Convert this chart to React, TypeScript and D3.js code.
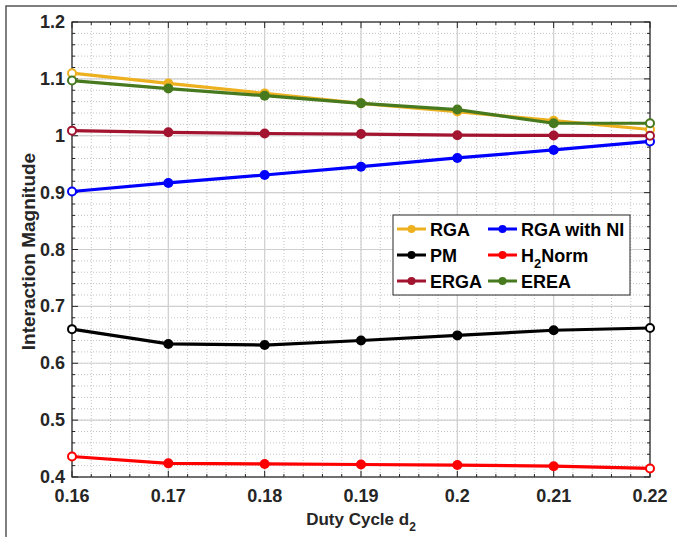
import React, { useEffect, useRef } from 'react';
import * as d3 from 'd3';

const duty = [0.16, 0.17, 0.18, 0.19, 0.2, 0.21, 0.22];
const rga = [1.110, 1.092, 1.0745, 1.057, 1.0425, 1.0265, 1.011];
const rgaNI = [0.902, 0.917, 0.931, 0.9456, 0.961, 0.975, 0.990];
const pm = [0.660, 0.634, 0.632, 0.640, 0.649, 0.658, 0.662];
const h2norm = [0.436, 0.424, 0.423, 0.422, 0.421, 0.419, 0.415];
const erga = [1.009, 1.006, 1.004, 1.003, 1.001, 1.0005, 1.0];
const erea = [1.097, 1.083, 1.0704, 1.057, 1.046, 1.022, 1.022];
const xTicks = ['0.16', '0.17', '0.18', '0.19', '0.2', '0.21', '0.22'];
const yTicks = ['0.4', '0.5', '0.6', '0.7', '0.8', '0.9', '1', '1.1', '1.2'];

const series = [
  { name: 'RGA', values: rga, color: '#EDB120' },
  { name: 'RGA with NI', values: rgaNI, color: '#0000FF' },
  { name: 'PM', values: pm, color: '#000000' },
  { name: 'H2Norm', values: h2norm, color: '#FF0000' },
  { name: 'ERGA', values: erga, color: '#A2142F' },
  { name: 'EREA', values: erea, color: '#477A1E' },
];

const App = () => {
  const ref = useRef(null);

  useEffect(() => {
    const svg = d3.select(ref.current);
    svg.selectAll('*').remove();
    const left = 72, right = 650, top = 22, bottom = 477;
    const font = 'Liberation Sans, Arial, sans-serif';

    const x = d3.scaleLinear().domain([0.16, 0.22]).range([left, right]);
    const y = d3.scaleLinear().domain([0.4, 1.2]).range([bottom, top]);

    // figure frame
    svg.append('rect').attr('x', 6).attr('y', 6).attr('width', 700).attr('height', 560)
      .attr('fill', 'none').attr('stroke', '#555').attr('stroke-width', 1.5);

    svg.append('rect').attr('x', left).attr('y', top).attr('width', right - left).attr('height', bottom - top)
      .attr('fill', '#fff');

    const g = svg.append('g');
    // minor grid
    const xMinor = d3.range(0, 31).map(i => 0.16 + i * 0.002);
    const yMinor = d3.range(0, 41).map(i => 0.4 + i * 0.02);
    g.selectAll('.xm').data(xMinor).enter().append('line')
      .attr('x1', d => x(d)).attr('x2', d => x(d)).attr('y1', top).attr('y2', bottom)
      .attr('stroke', '#bdbdbd').attr('stroke-width', 0.9).attr('stroke-dasharray', '1,2');
    g.selectAll('.ym').data(yMinor).enter().append('line')
      .attr('y1', d => y(d)).attr('y2', d => y(d)).attr('x1', left).attr('x2', right)
      .attr('stroke', '#bdbdbd').attr('stroke-width', 0.9).attr('stroke-dasharray', '1,2');
    // major grid
    g.selectAll('.xg').data(xTicks).enter().append('line')
      .attr('x1', d => x(+d)).attr('x2', d => x(+d)).attr('y1', top).attr('y2', bottom)
      .attr('stroke', '#d0d0d0').attr('stroke-width', 1.2);
    g.selectAll('.yg').data(yTicks).enter().append('line')
      .attr('y1', d => y(+d)).attr('y2', d => y(+d)).attr('x1', left).attr('x2', right)
      .attr('stroke', '#d0d0d0').attr('stroke-width', 1.2);

    // ticks inside on all sides
    const tk = svg.append('g').attr('stroke', '#262626').attr('stroke-width', 1);
    xMinor.forEach((d, i) => {
      const len = i % 5 === 0 ? 6 : 3;
      tk.append('line').attr('x1', x(d)).attr('x2', x(d)).attr('y1', bottom).attr('y2', bottom - len);
      tk.append('line').attr('x1', x(d)).attr('x2', x(d)).attr('y1', top).attr('y2', top + len);
    });
    yMinor.forEach((d, i) => {
      const len = i % 5 === 0 ? 6 : 3;
      tk.append('line').attr('y1', y(d)).attr('y2', y(d)).attr('x1', left).attr('x2', left + len);
      tk.append('line').attr('y1', y(d)).attr('y2', y(d)).attr('x1', right).attr('x2', right - len);
    });
    svg.append('rect').attr('x', left).attr('y', top).attr('width', right - left).attr('height', bottom - top)
      .attr('fill', 'none').attr('stroke', '#262626').attr('stroke-width', 1.2);

    // tick labels
    svg.selectAll('.xl').data(xTicks).enter().append('text')
      .attr('x', d => x(+d)).attr('y', bottom + 25).attr('text-anchor', 'middle')
      .attr('font-family', font).attr('font-weight', 'bold').attr('font-size', 18).attr('fill', '#262626')
      .text(d => d);
    svg.selectAll('.yl').data(yTicks).enter().append('text')
      .attr('x', left - 7).attr('y', d => y(+d) + 6).attr('text-anchor', 'end')
      .attr('font-family', font).attr('font-weight', 'bold').attr('font-size', 18).attr('fill', '#262626')
      .text(d => d);

    // axis labels
    const xl = svg.append('text').attr('x', (left + right) / 2).attr('y', 525).attr('text-anchor', 'middle')
      .attr('font-family', font).attr('font-weight', 'bold').attr('font-size', 17).attr('fill', '#262626');
    xl.append('tspan').text('Duty Cycle d');
    xl.append('tspan').attr('font-size', 12).attr('dy', 6).text('2');
    svg.append('text').attr('transform', `translate(35,${(top + bottom) / 2 + 2}) rotate(-90)`)
      .attr('text-anchor', 'middle')
      .attr('font-family', font).attr('font-weight', 'bold').attr('font-size', 19).attr('fill', '#262626')
      .text('Interaction Magnitude');

    // series
    const line = d3.line<number>().x((d, i) => x(duty[i])).y(d => y(d));
    series.forEach(s => {
      svg.append('path').datum(s.values).attr('d', line).attr('fill', 'none')
        .attr('stroke', s.color).attr('stroke-width', 3.2).attr('stroke-linejoin', 'round');
      svg.selectAll(null).data(s.values).enter().append('circle')
        .attr('cx', (d, i) => x(duty[i])).attr('cy', d => y(d))
        .attr('r', (d, i) => (i === 0 || i === duty.length - 1 ? 4 : 5))
        .attr('fill', (d, i) => (i === 0 || i === duty.length - 1 ? '#fff' : s.color))
        .attr('stroke', s.color).attr('stroke-width', (d, i) => (i === 0 || i === duty.length - 1 ? 2 : 0));
    });

    // legend
    const lg = svg.append('g');
    lg.append('rect').attr('x', 393).attr('y', 215).attr('width', 237).attr('height', 80)
      .attr('fill', '#fff').attr('stroke', '#262626').attr('stroke-width', 1);
    const cols = [397, 488];
    const rows = [229, 255, 281];
    series.forEach((s, i) => {
      const cx = cols[i % 2];
      const cy = rows[Math.floor(i / 2)];
      lg.append('line').attr('x1', cx).attr('x2', cx + 29).attr('y1', cy).attr('y2', cy)
        .attr('stroke', s.color).attr('stroke-width', 3);
      lg.append('circle').attr('cx', cx + 14.5).attr('cy', cy).attr('r', 4).attr('fill', s.color);
      const t = lg.append('text').attr('x', cx + 33).attr('y', cy + 6.5)
        .attr('font-family', font).attr('font-weight', 'bold').attr('font-size', 18).attr('fill', '#000');
      if (s.name === 'H2Norm') {
        t.append('tspan').text('H');
        t.append('tspan').attr('font-size', 13).attr('dy', 6).text('2');
        t.append('tspan').attr('dy', -6).text('Norm');
      } else {
        t.text(s.name);
      }
    });
  }, []);

  return <svg ref={ref} width={677} height={537} style={{ position: 'absolute', left: 0, top: 0, background: '#fff' }} />;
};

export default App;
